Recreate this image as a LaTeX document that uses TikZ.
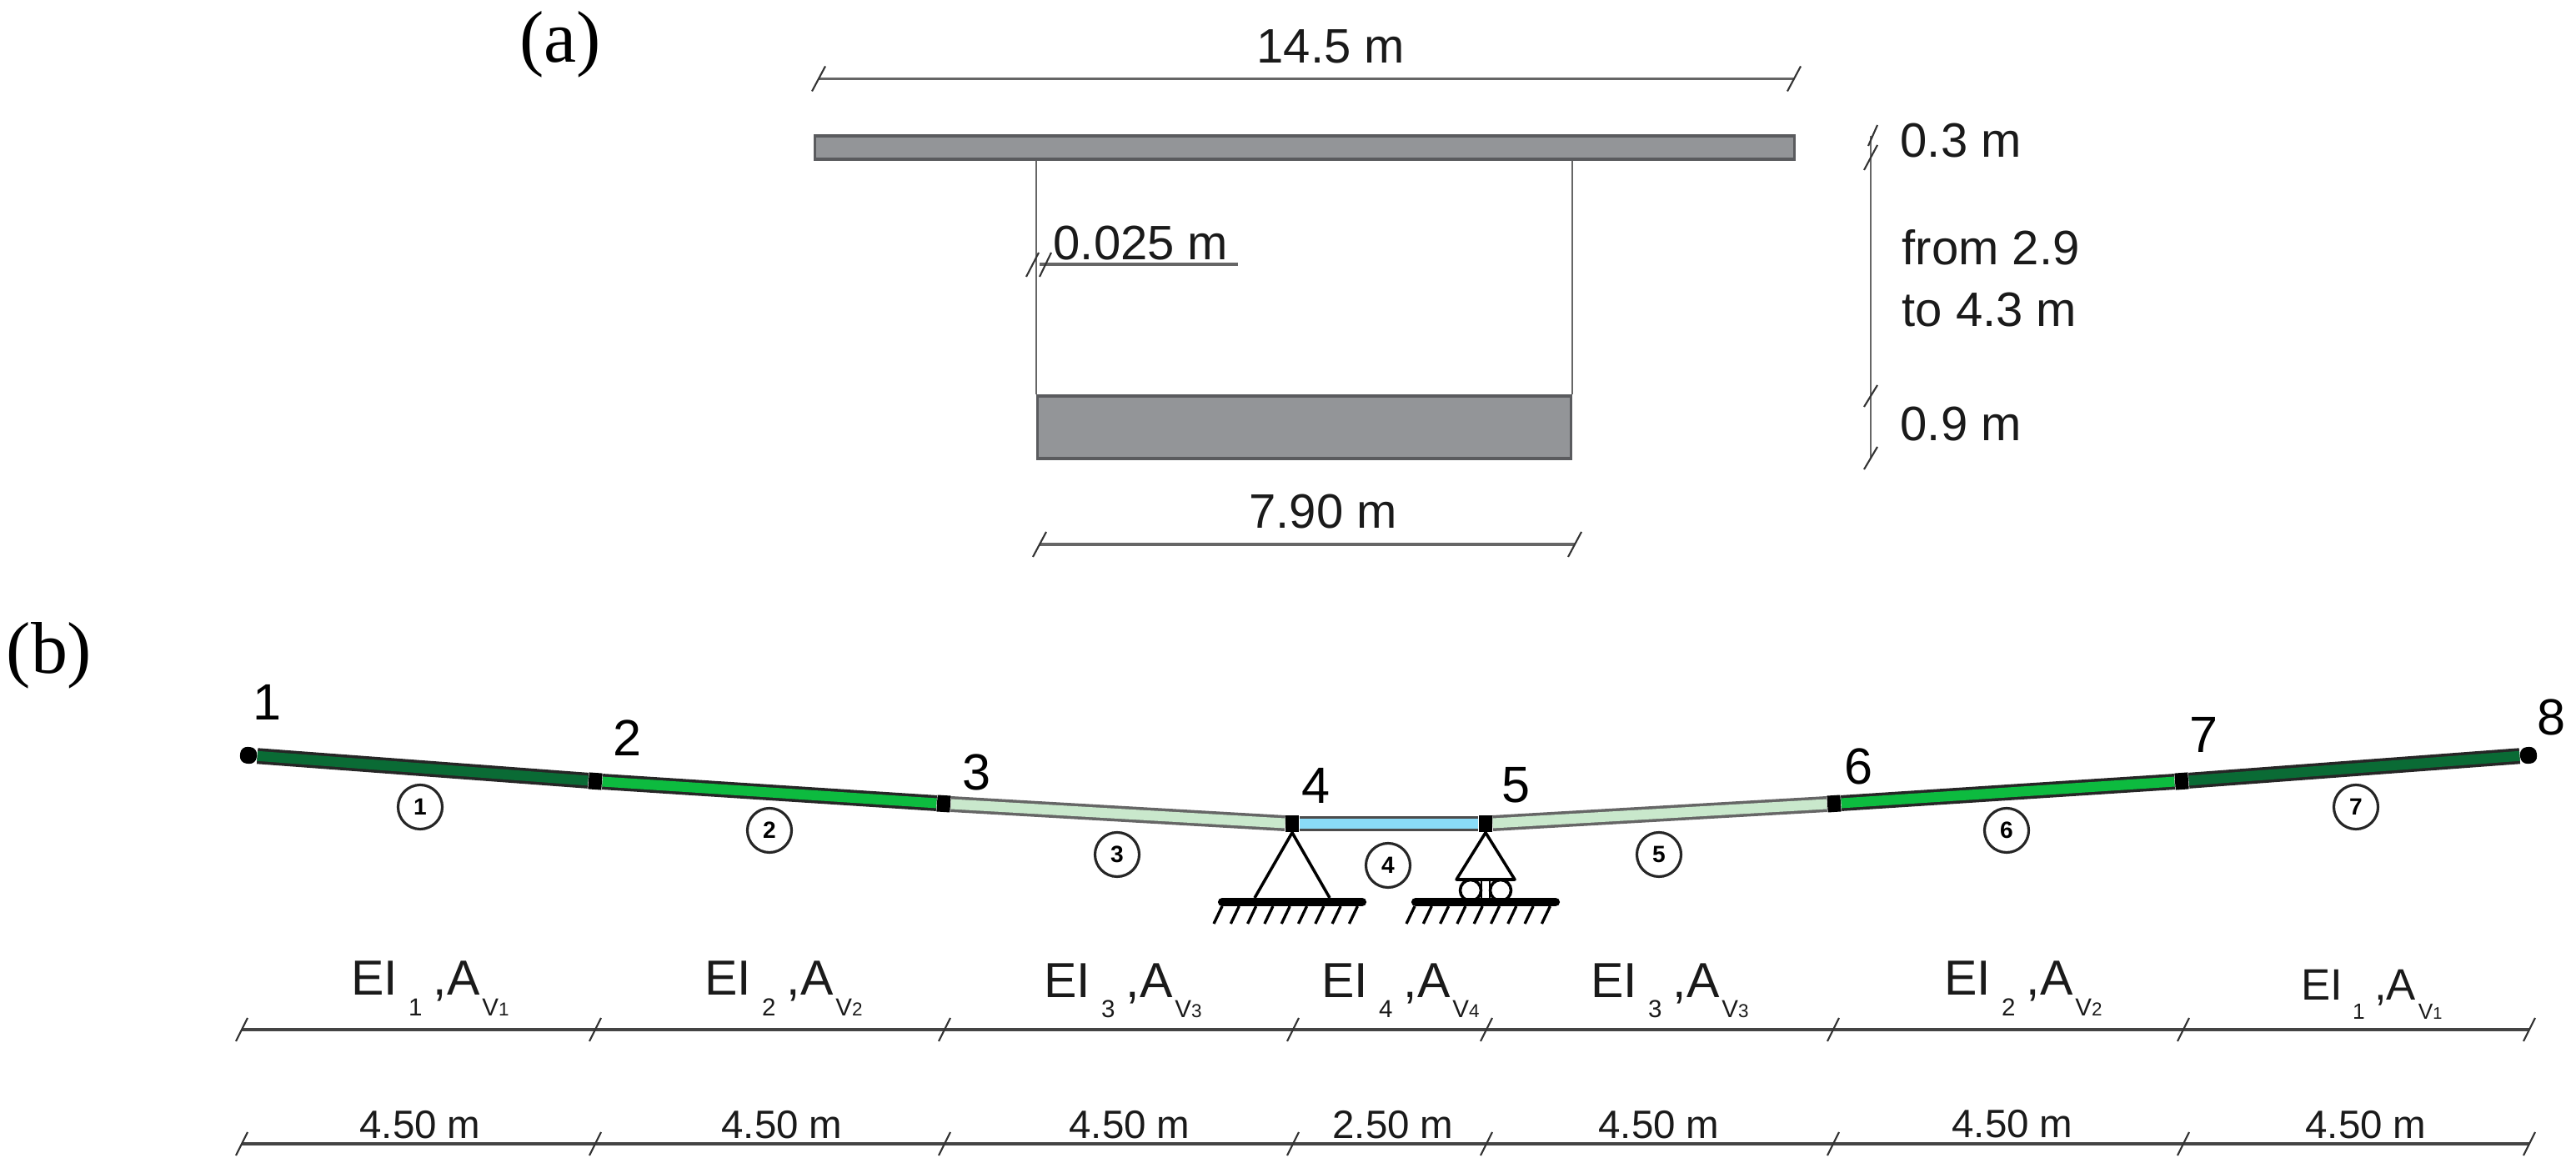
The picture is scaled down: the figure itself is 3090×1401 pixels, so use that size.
\documentclass[tikz,border=0pt]{standalone}
\usepackage{fontspec}
\setmainfont{Liberation Sans}
\newfontfamily\serifpart{Liberation Serif}
\usetikzlibrary{positioning}
\definecolor{textdark}{HTML}{1A1A1A}
\definecolor{slabgray}{HTML}{939598}
\definecolor{edgegray}{HTML}{5A5B5E}
\definecolor{dimgray}{HTML}{666666}
\definecolor{rowgray}{HTML}{444444}
\definecolor{barone}{HTML}{0A6B35}
\definecolor{bartwo}{HTML}{0DBB3F}
\definecolor{barthree}{HTML}{C9E8CC}
\definecolor{barfour}{HTML}{8ADCF8}
\tikzstyle{dimline} = [draw=dimgray,line width=1pt]
\tikzstyle{rowline} = [draw=rowgray,line width=1pt]
\tikzstyle{dimtick} = [draw=black!80,line width=0.6pt]
\tikzstyle{slab} = [draw=edgegray,line width=0.9pt,fill=slabgray]
\tikzstyle{web} = [draw=dimgray,line width=0.6pt]
\tikzstyle{bar} = [draw=black!85,line width=1pt,double distance=3.4pt]
\tikzstyle{joint} = [rectangle,fill=black,inner sep=0pt,minimum width=0.16cm,minimum height=0.2cm]
\tikzstyle{endjoint} = [rectangle,fill=black,rounded corners=2.4pt,inner sep=0pt,minimum width=0.2cm,minimum height=0.2cm]
\tikzstyle{support} = [draw=black,line width=1pt]
\tikzstyle{ground} = [draw=black,line width=2.9pt,line cap=round]
\tikzstyle{hatch} = [draw=black,line width=0.95pt]
\tikzstyle{dimtext} = [inner sep=0pt,text=textdark,font=\fontsize{16.5}{21}\selectfont]
\tikzstyle{numtext} = [inner sep=0pt,text=black,font=\fontsize{17.4}{20}\selectfont]
\tikzstyle{lentext} = [inner sep=0pt,anchor=base,text=textdark,font=\fontsize{13.5}{16}\selectfont]
\tikzstyle{eitext} = [inner sep=0pt,anchor=base,text=textdark,font=\fontsize{16.8}{20}\selectfont]
\tikzstyle{partlabel} = [inner sep=0pt,text=black,font=\serifpart\fontsize{25}{28}\selectfont]
\tikzstyle{elem} = [circle,draw=black!85,line width=0.9pt,inner sep=0pt,minimum size=0.53cm,font=\bfseries\fontsize{8}{9}\selectfont]
\newcommand{\EIlabel}[2]{EI\hspace{.22em}\raisebox{-.42em}{\scalebox{.5}{#1}}\hspace{.22em},A\hspace{.05em}\raisebox{-.42em}{\scalebox{.5}{V}\scalebox{.38}{#2}}}
\begin{document}
\begin{tikzpicture}[x=0.01cm,y=-0.01cm]
        \useasboundingbox (0,0) rectangle (3090,1401);
        % part (a)
        \node[partlabel] (parta) at (672,53) {(a)};
        \node[slab,minimum width=11.74cm,minimum height=0.28cm,inner sep=0pt] (deck) at (1565,177) {};
        \node[slab,minimum width=6.39cm,minimum height=0.75cm,inner sep=0pt] (bottom) at (1564.5,512.5) {};
        \draw[web] (deck.south -| bottom.north west) -- (bottom.north west);
        \draw[web] (deck.south -| bottom.north east) -- (bottom.north east);

        \coordinate (widea) at (982,94.5);
        \coordinate (wideb) at (2152,94.5);
        \draw[dimline] (widea) -- node[dimtext,above=4.7pt,pos=0.525]{14.5 m} (wideb);
        \draw[dimtick] (widea) +(-8,15) -- +(8,-15);
        \draw[dimtick] (wideb) +(-8,15) -- +(8,-15);

        \coordinate (basea) at (1247,653);
        \coordinate (baseb) at (1889,653);
        \draw[dimline] (basea) -- node[dimtext,above=5pt,pos=0.53]{7.90 m} (baseb);
        \draw[dimtick] (basea) +(-8,15) -- +(8,-15);
        \draw[dimtick] (baseb) +(-8,15) -- +(8,-15);

        \coordinate (weba) at (1247,317);
        \coordinate (webb) at (1485,317);
        \draw[dimline] (weba) -- (webb);
        \draw[dimtick] (weba) +(-16,15) -- +(-1,-14);
        \draw[dimtick] (weba) +(0,15) -- +(14,-14);
        \node[dimtext,anchor=base west] (webtext) at (1263,312) {0.025 m};

        \coordinate (heighta) at (2244,163);
        \coordinate (heightb) at (2244,191);
        \coordinate (heightc) at (2244,475);
        \coordinate (heightd) at (2244,549);
        \draw[web] (heighta) -- (heightd);
        \draw[dimtick] (heighta) +(-3,12) -- +(8,-13);
        \draw[dimtick] (heightb) +(-8,13) -- +(8,-17);
        \draw[dimtick] (heightc) +(-8,13) -- +(8,-13);
        \draw[dimtick] (heightd) +(-8,14) -- +(8,-13);
        \node[dimtext,anchor=west] (toptext) at (2279,169) {0.3 m};
        \node[dimtext,anchor=west,align=left] (midtext) at (2281,334) {from 2.9\\to 4.3 m};
        \node[dimtext,anchor=west] (lowtext) at (2279,509) {0.9 m};

        % part (b)
        \node[partlabel] (partb) at (59,786) {(b)};
        \node[endjoint,rotate=-4.2] (n1) at (298,906) {};
        \node[joint,rotate=-4.2] (n2) at (714,937) {};
        \node[joint,rotate=-3.7] (n3) at (1132,964) {};
        \node[joint] (n4) at (1550,988) {};
        \node[joint] (n5) at (1782,988) {};
        \node[joint,rotate=3.7] (n6) at (2200,964) {};
        \node[joint,rotate=4.2] (n7) at (2617,937) {};
        \node[endjoint,rotate=4.2] (n8) at (3033,906) {};
        \draw[bar,double=barone] (n1) -- (n2);
        \draw[bar,double=bartwo] (n2) -- (n3);
        \draw[bar,draw=black!60,double=barthree] (n3) -- (n4);
        \draw[bar,draw=black!70,double=barfour] (n4) -- (n5);
        \draw[bar,draw=black!60,double=barthree] (n5) -- (n6);
        \draw[bar,double=bartwo] (n6) -- (n7);
        \draw[bar,double=barone] (n7) -- (n8);

        \node[numtext] (num1) at (321,842) {1};
        \node[numtext] (num2) at (753,885) {2};
        \node[numtext] (num3) at (1172,926) {3};
        \node[numtext] (num4) at (1578,942) {4};
        \node[numtext] (num5) at (1818,942) {5};
        \node[numtext] (num6) at (2229,919) {6};
        \node[numtext] (num7) at (2643,881) {7};
        \node[numtext] (num8) at (3060,860) {8};

        \node[elem] (e1) at (504,968) {1};
        \node[elem] (e2) at (923,996) {2};
        \node[elem] (e3) at (1340,1025) {3};
        \node[elem] (e4) at (1665,1038) {4};
        \node[elem] (e5) at (1990,1025) {5};
        \node[elem] (e6) at (2407,996) {6};
        \node[elem] (e7) at (2826,968) {7};

        % supports
        \coordinate (fixa) at (1505,1077);
        \coordinate (fixb) at (1595,1077);
        \draw[support] (fixa) -- (n4.south) -- (fixb);
        \coordinate (rolla) at (1747,1055);
        \coordinate (rollb) at (1817,1055);
        \draw[support,line join=round] (rolla) -- (n5.south) -- (rollb) -- cycle;
        \draw[support] (1764,1068) circle (12.5);
        \draw[support] (1800,1068) circle (12.5);
        \draw[support,line width=0.7pt] (1777,1056) -- (1777,1078);
        \draw[support,line width=0.7pt] (1787,1056) -- (1787,1078);
        \coordinate (grounda) at (1466,1082);
        \coordinate (groundb) at (1634,1082);
        \coordinate (groundc) at (1698,1082);
        \coordinate (groundd) at (1866,1082);
        \draw[ground] (grounda) -- (groundb);
        \draw[ground] (groundc) -- (groundd);
        \foreach \hx in {0,...,8}{
            \draw[hatch] (1456+\hx*20.3,1108) -- (1466+\hx*20.3,1087);
            \draw[hatch] (1687+\hx*20.3,1108) -- (1697+\hx*20.3,1087);
        }

        % stiffness row
        \coordinate (sa) at (290,1235);
        \coordinate (sb) at (714,1235);
        \coordinate (sc) at (1133,1235);
        \coordinate (sd) at (1551,1235);
        \coordinate (se) at (1783,1235);
        \coordinate (sf) at (2199,1235);
        \coordinate (sg) at (2619,1235);
        \coordinate (sh) at (3034,1235);
        \draw[rowline] (sa) -- (sh);
        \foreach \sname in {sa,sb,sc,sd,se,sf,sg,sh}{
            \draw[dimtick] (\sname) +(-7,14) -- +(7,-14);
        }
        \node[eitext] (ei1) at (516,1194) {\EIlabel{1}{1}};
        \node[eitext] (ei2) at (940,1194) {\EIlabel{2}{2}};
        \node[eitext] (ei3) at (1347,1196) {\EIlabel{3}{3}};
        \node[eitext] (ei4) at (1680,1196) {\EIlabel{4}{4}};
        \node[eitext] (ei5) at (2003,1196) {\EIlabel{3}{3}};
        \node[eitext] (ei6) at (2427,1194) {\EIlabel{2}{2}};
        \node[eitext,font=\fontsize{15}{18}\selectfont] (ei7) at (2845,1200) {\EIlabel{1}{1}};

        % length row
        \coordinate (la) at (290,1372);
        \coordinate (lb) at (714,1372);
        \coordinate (lc) at (1133,1372);
        \coordinate (ld) at (1551,1372);
        \coordinate (le) at (1783,1372);
        \coordinate (lf) at (2199,1372);
        \coordinate (lg) at (2619,1372);
        \coordinate (lh) at (3034,1372);
        \draw[rowline] (la) -- (lh);
        \foreach \lname in {la,lb,lc,ld,le,lf,lg,lh}{
            \draw[dimtick] (\lname) +(-7,14) -- +(7,-14);
        }
        \node[lentext] (len1) at (504,1366) {4.50 m};
        \node[lentext] (len2) at (938,1366) {4.50 m};
        \node[lentext] (len3) at (1355,1366) {4.50 m};
        \node[lentext] (len4) at (1671,1366) {2.50 m};
        \node[lentext] (len5) at (1990,1366) {4.50 m};
        \node[lentext] (len6) at (2414,1364) {4.50 m};
        \node[lentext] (len7) at (2838,1366) {4.50 m};
\end{tikzpicture}
\end{document}
